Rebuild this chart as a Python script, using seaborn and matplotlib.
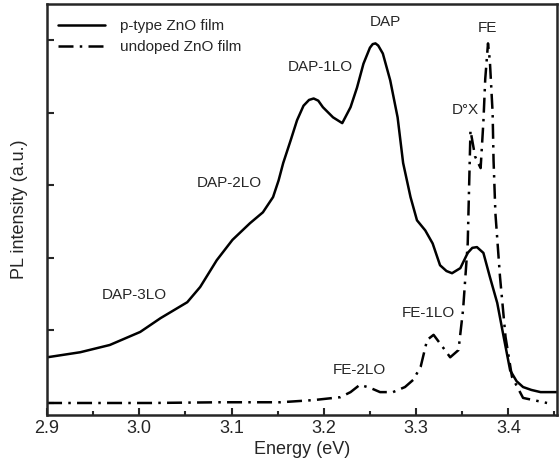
import matplotlib
matplotlib.use('Agg')
import matplotlib.pyplot as plt
from matplotlib.ticker import MultipleLocator
import seaborn as sns

sns.set_style('ticks')
plt.rcParams['font.family'] = ['Liberation Sans', 'DejaVu Sans']

# p-type ZnO film (solid)
ptype_energy = [2.900, 2.936, 2.968, 3.001, 3.023, 3.052, 3.066, 3.084, 3.101, 3.120,
                3.134, 3.145, 3.151, 3.156, 3.164, 3.171, 3.178, 3.184, 3.189, 3.194,
                3.199, 3.210, 3.220, 3.229, 3.236, 3.243, 3.250, 3.253, 3.256, 3.259,
                3.264, 3.272, 3.280, 3.286, 3.294, 3.301, 3.310, 3.318, 3.326, 3.333,
                3.339, 3.348, 3.356, 3.361, 3.366, 3.373, 3.380, 3.388, 3.395, 3.402,
                3.409, 3.416, 3.425, 3.435, 3.453]
ptype_pl = [0.63, 0.70, 0.80, 0.98, 1.17, 1.39, 1.60, 1.97, 2.25, 2.48,
            2.63, 2.84, 3.07, 3.31, 3.62, 3.90, 4.10, 4.18, 4.20, 4.17,
            4.08, 3.94, 3.86, 4.08, 4.35, 4.68, 4.90, 4.95, 4.96, 4.93,
            4.82, 4.45, 3.94, 3.31, 2.84, 2.52, 2.38, 2.20, 1.90, 1.82,
            1.79, 1.86, 2.07, 2.14, 2.15, 2.07, 1.74, 1.38, 0.91, 0.45,
            0.30, 0.22, 0.18, 0.15, 0.15]

# undoped ZnO film (dash-dot)
undoped_energy = [2.900, 3.012, 3.088, 3.153, 3.189, 3.218, 3.229, 3.239, 3.250, 3.261,
                  3.275, 3.288, 3.297, 3.305, 3.312, 3.319, 3.329, 3.337, 3.346, 3.351,
                  3.356, 3.359, 3.364, 3.370, 3.373, 3.375, 3.378, 3.380, 3.383, 3.384,
                  3.386, 3.391, 3.397, 3.404, 3.416, 3.442]
undoped_pl = [0.00, 0.00, 0.01, 0.01, 0.04, 0.08, 0.15, 0.25, 0.21, 0.15,
              0.15, 0.22, 0.32, 0.50, 0.87, 0.94, 0.77, 0.63, 0.73, 1.29,
              2.20, 3.76, 3.40, 3.24, 3.88, 4.47, 4.96, 4.72, 4.00, 3.35,
              2.62, 1.74, 0.91, 0.36, 0.07, 0.00]

peak_labels = ['DAP', 'DAP-1LO', 'DAP-2LO', 'DAP-3LO', 'FE', 'D°X', 'FE-1LO', 'FE-2LO']
label_x = [3.267, 3.196, 3.098, 2.995, 3.377, 3.353, 3.313, 3.239]
label_y = [5.25, 4.63, 3.04, 1.49, 5.17, 4.04, 1.24, 0.45]

fig = plt.figure(figsize=(5.6, 4.71), dpi=100)
ax = fig.add_axes([0.084, 0.119, 0.911, 0.872])

sns.lineplot(x=ptype_energy, y=ptype_pl, ax=ax, color='black', lw=1.8,
             label='p-type ZnO film')
sns.lineplot(x=undoped_energy, y=undoped_pl, ax=ax, color='black', lw=1.8,
             linestyle=(0, (6, 2.5, 1, 2.5)), label='undoped ZnO film')

for txt, x, y in zip(peak_labels, label_x, label_y):
    ax.text(x, y, txt, ha='center', va='center', fontsize=11)

ax.set_xlim(2.9, 3.453)
ax.set_ylim(-0.165, 5.5)
ax.xaxis.set_major_locator(MultipleLocator(0.1))
ax.xaxis.set_minor_locator(MultipleLocator(0.05))
ax.yaxis.set_major_locator(MultipleLocator(1))
ax.set_yticklabels([])
ax.tick_params(direction='in', which='major', length=5, width=1.5, labelsize=13)
ax.tick_params(direction='in', which='minor', length=3, width=1.5)
for s in ax.spines.values():
    s.set_linewidth(1.8)

ax.set_xlabel('Energy (eV)', fontsize=13, labelpad=3)
ax.set_ylabel('PL intensity (a.u.)', fontsize=13, labelpad=10)

ax.legend(loc='upper left', bbox_to_anchor=(0.0, 0.99), frameon=False, fontsize=11,
          handlelength=3.1, handletextpad=1.0, labelspacing=0.45, borderaxespad=0.3)

fig.savefig('out.png', dpi=100)
